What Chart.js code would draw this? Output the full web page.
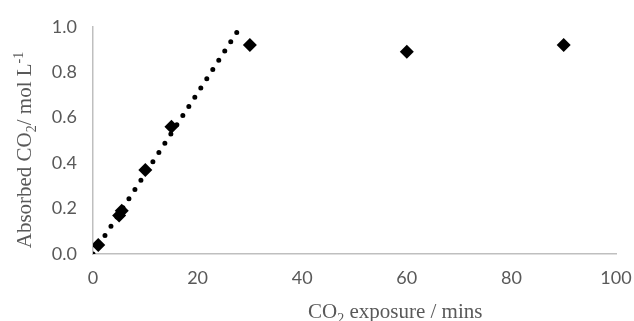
<!DOCTYPE html>
<html>
<head>
<meta charset="utf-8">
<script src="https://cdn.jsdelivr.net/npm/chart.js@4.4.1/dist/chart.umd.min.js"></script>
<style>
  html, body { margin: 0; padding: 0; background: #fff; }
  #wrap { width: 634px; height: 321px; }
</style>
</head>
<body>
<div id="wrap"><canvas id="co2Chart" width="634" height="321"></canvas></div>
<script>
const exposureMins = [1, 5, 5.5, 10, 15, 30, 60, 90];
const absorbedCO2 = [0.04, 0.17, 0.19, 0.37, 0.56, 0.92, 0.89, 0.92];

// droite de tendance (deux extrémités)
const trendX = [0, 28.2];
const trendY = [0, 1.0];

const xTicks = [0, 20, 40, 60, 80, 100];
const yTicks = [0, 0.2, 0.4, 0.6, 0.8, 1.0];

const gray = '#595959';
const tickFont = { family: 'Lato', size: 18 };

// titres d'axes avec indices / exposants
function drawRich(ctx, parts, x, y) {
    let cx = x;
    parts.forEach(p => {
        let dy = 0;
        if (p.sub) { ctx.font = '14px "Liberation Serif"'; dy = 5; }
        else if (p.sup) { ctx.font = '14px "Liberation Serif"'; dy = -8; }
        else { ctx.font = '21px "Liberation Serif"'; }
        ctx.fillText(p.t, cx, y + dy);
        cx += ctx.measureText(p.t).width;
    });
}

function richWidth(ctx, parts) {
    let w = 0;
    parts.forEach(p => {
        ctx.font = (p.sub || p.sup) ? '14px "Liberation Serif"' : '21px "Liberation Serif"';
        w += ctx.measureText(p.t).width;
    });
    return w;
}

const axisTitles = {
    id: 'axisTitles',
    afterDraw(chart) {
        const ctx = chart.ctx;
        ctx.save();
        ctx.fillStyle = gray;
        ctx.textBaseline = 'alphabetic';
        ctx.textAlign = 'left';

        const xParts = [{ t: 'CO' }, { t: '2', sub: true }, { t: ' exposure / mins' }];
        drawRich(ctx, xParts, 308, 318);

        const yParts = [{ t: 'Absorbed CO' }, { t: '2', sub: true }, { t: '/ mol L' }, { t: '-1', sup: true }];
        const w = richWidth(ctx, yParts);
        ctx.translate(31, 150);
        ctx.rotate(-Math.PI / 2);
        drawRich(ctx, yParts, -w / 2, 0);
        ctx.restore();
    }
};

const ctx = document.getElementById('co2Chart').getContext('2d');
new Chart(ctx, {
    type: 'scatter',
    data: {
        datasets: [{
            label: 'Absorbed CO2',
            data: exposureMins.map((x, i) => ({ x: x, y: absorbedCO2[i] })),
            pointStyle: 'rectRot',
            pointRadius: 7,
            pointBackgroundColor: '#000',
            pointBorderColor: '#000',
            pointBorderWidth: 0,
            order: 1
        }, {
            label: 'Linear',
            data: trendX.map((x, i) => ({ x: x, y: trendY[i] })),
            showLine: true,
            borderColor: '#000',
            borderWidth: 5,
            borderDash: [0, 11],
            borderCapStyle: 'round',
            pointRadius: 0,
            order: 2
        }]
    },
    options: {
        responsive: false,
        animation: false,
        layout: { padding: { top: 25, right: 1, left: 0, bottom: 0 } },
        plugins: {
            legend: { display: false },
            tooltip: { enabled: false }
        },
        scales: {
            x: {
                type: 'linear',
                min: 0,
                max: 100,
                afterFit: s => { s.height = 67; s.paddingRight = 18; },
                afterBuildTicks: s => { s.ticks = xTicks.map(v => ({ value: v })); },
                grid: { display: false, drawTicks: false },
                border: { display: true, color: '#bfbfbf', width: 1.5 },
                ticks: { font: tickFont, color: gray, padding: 13 }
            },
            y: {
                min: 0,
                max: 1,
                afterFit: s => { s.width = 93; },
                afterBuildTicks: s => { s.ticks = yTicks.map(v => ({ value: v })); },
                grid: { display: false, drawTicks: false },
                border: { display: true, color: '#bfbfbf', width: 1.5 },
                ticks: { font: tickFont, color: gray, padding: 16, callback: v => v.toFixed(1) }
            }
        }
    },
    plugins: [axisTitles]
});
</script>
</body>
</html>
